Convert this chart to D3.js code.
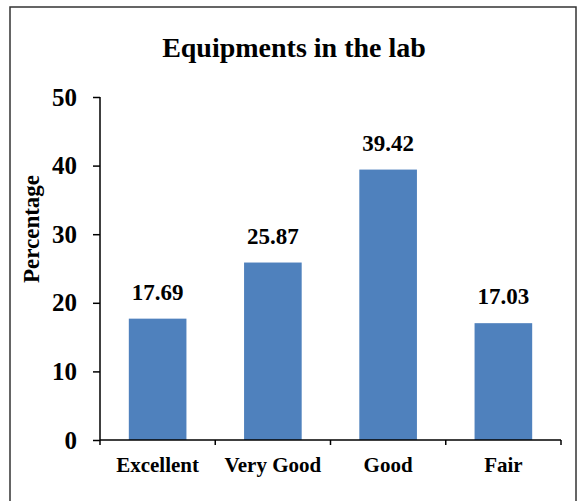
<!DOCTYPE html>
<html>
<head>
<meta charset="utf-8">
<script src="https://cdn.jsdelivr.net/npm/d3@7"></script>
<style>
  body { margin: 0; background: #fff; }
  svg text { font-family: "Liberation Serif", "Times New Roman", serif; font-weight: bold; fill: #000; }
  .axis path, .axis line { stroke: #000; stroke-width: 1.5px; }
</style>
</head>
<body>
<div id="chart"></div>
<script>
// data
var categories = ["Excellent", "Very Good", "Good", "Fair"];
var values = [17.69, 25.87, 39.42, 17.03];
var yTicks = [0, 10, 20, 30, 40, 50];

var width = 580, height = 501;
var margin = {top: 97, right: 19, bottom: 61, left: 100};
var plotW = width - margin.left - margin.right,
    plotH = height - margin.top - margin.bottom;

var svg = d3.select("#chart").append("svg")
    .attr("width", width)
    .attr("height", height);

// frame round the whole chart
svg.append("rect")
    .attr("x", 10).attr("y", 7)
    .attr("width", 566).attr("height", 520)
    .attr("fill", "none")
    .attr("stroke", "#333")
    .attr("stroke-width", 1.5);

svg.append("text")
    .attr("x", 294).attr("y", 57)
    .attr("text-anchor", "middle")
    .style("font-size", "28px")
    .text("Equipments in the lab");

var main = svg.append("g")
    .attr("transform", "translate(" + margin.left + "," + margin.top + ")");

var x = d3.scaleBand()
    .domain(categories)
    .range([0, plotW])
    .paddingInner(0.5)
    .paddingOuter(0.25);

var y = d3.scaleLinear()
    .domain([0, 50])
    .range([plotH, 0]);

// y axis
var yAxis = main.append("g")
    .attr("class", "axis")
    .call(d3.axisLeft(y).tickValues(yTicks).tickSize(7).tickPadding(16));
yAxis.select(".domain").attr("d", "M0," + plotH + "V0");
yAxis.selectAll("text").style("font-size", "25px");

// bars
main.selectAll(".bar")
    .data(values)
  .enter().append("rect")
    .attr("class", "bar")
    .attr("x", function(d, i) { return x(categories[i]); })
    .attr("y", function(d) { return y(d); })
    .attr("width", x.bandwidth())
    .attr("height", function(d) { return plotH - y(d); })
    .attr("fill", "#4F81BD");

main.selectAll(".val")
    .data(values)
  .enter().append("text")
    .attr("class", "val")
    .attr("x", function(d, i) { return x(categories[i]) + x.bandwidth() / 2; })
    .attr("y", function(d) { return y(d) - 19; })
    .attr("text-anchor", "middle")
    .style("font-size", "23px")
    .text(function(d) { return d.toFixed(2); });

// x axis: line, ticks between categories, labels centred
var xAxis = main.append("g")
    .attr("class", "axis")
    .attr("transform", "translate(0," + plotH + ")");
xAxis.append("path")
    .attr("d", "M0,0H" + plotW)
    .attr("fill", "none");
var bounds = d3.range(categories.length + 1).map(function(i) { return i * x.step(); });
xAxis.selectAll(".tk")
    .data(bounds)
  .enter().append("line")
    .attr("x1", function(d) { return d; })
    .attr("x2", function(d) { return d; })
    .attr("y1", 0).attr("y2", 5);
xAxis.selectAll(".lab")
    .data(categories)
  .enter().append("text")
    .attr("x", function(d) { return x(d) + x.bandwidth() / 2; })
    .attr("y", 32)
    .attr("text-anchor", "middle")
    .style("font-size", "21px")
    .text(function(d) { return d; });

svg.append("text")
    .attr("transform", "translate(39,229) rotate(-90)")
    .attr("text-anchor", "middle")
    .style("font-size", "23px")
    .text("Percentage");
</script>
</body>
</html>
